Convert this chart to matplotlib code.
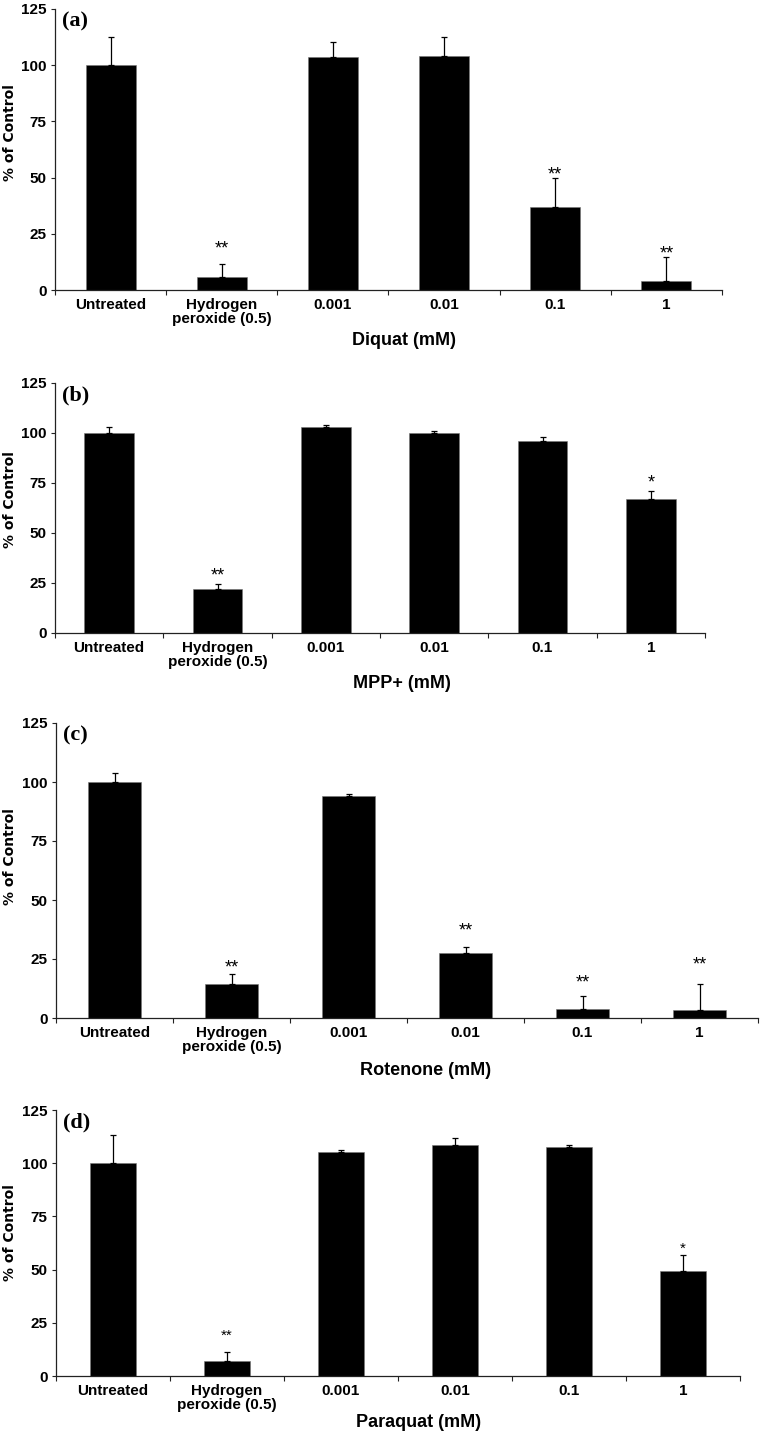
import numpy as np
import matplotlib
matplotlib.use('Agg')
import matplotlib.pyplot as plt

categories = ['Untreated', 'Hydrogen\nperoxide (0.5)', '0.001', '0.01', '0.1', '1']

xlabels = ['Diquat (mM)', 'MPP+ (mM)', 'Rotenone (mM)', 'Paraquat (mM)']
panel_tags = ['(a)', '(b)', '(c)', '(d)']

# % of control (mean) and upper error
diquat_mean = [100, 5.8, 103.6, 104.2, 37.1, 4.2]
diquat_err = [12.4, 5.8, 6.7, 8.3, 12.9, 10.5]
diquat_star = ['', '**', '', '', '**', '**']
diquat_star_y = [0, 20.9, 0, 0, 54.1, 18.8]

mpp_mean = [100, 22.0, 103.1, 99.8, 96.0, 67.0]
mpp_err = [3.0, 2.3, 0.9, 1.2, 2.2, 3.8]
mpp_star = ['', '**', '', '', '', '*']
mpp_star_y = [0, 31.8, 0, 0, 0, 78.0]

rot_mean = [100, 14.4, 93.9, 27.7, 3.8, 3.2]
rot_err = [3.7, 4.2, 1.0, 2.2, 5.5, 11.2]
rot_star = ['', '**', '', '**', '**', '**']
rot_star_y = [0, 23.6, 0, 39.3, 17.5, 25.0]

para_mean = [100, 6.9, 105.3, 108.6, 107.6, 49.3]
para_err = [13.4, 4.2, 0.7, 3.1, 1.0, 7.7]
para_star = ['', '**', '', '', '', '*']
para_star_y = [0, 21.3, 0, 0, 0, 62.0]

means = [diquat_mean, mpp_mean, rot_mean, para_mean]
errs = [diquat_err, mpp_err, rot_err, para_err]
stars = [diquat_star, mpp_star, rot_star, para_star]
stars_y = [diquat_star_y, mpp_star_y, rot_star_y, para_star_y]

W, H = 760, 1434
# layout in pixels: (left, right, top, bottom)
boxes = [(55, 722, 9, 290), (55, 705, 383, 633), (56, 758, 723, 1018), (56, 740, 1110, 1376)]
bar_w = [0.45, 0.46, 0.46, 0.40]
star_size = [13, 13, 13, 11]
xlabel_pos = [(404, 332), (402, 675), (426, 1062), (419, 1414)]
ylabel_y = [133, 500, 857, 1233]

fig = plt.figure(figsize=(W / 100, H / 100), dpi=100)
sans = 'Liberation Sans'

x = np.arange(len(categories))
for i in range(4):
    l, r, t, b = boxes[i]
    ax = fig.add_axes([l / W, 1 - b / H, (r - l) / W, (b - t) / H])
    ax.bar(x, means[i], width=bar_w[i], color='black', edgecolor='#777777', linewidth=0.4, zorder=2)
    ax.errorbar(x, means[i], yerr=[np.zeros(len(x)), errs[i]], fmt='none',
                ecolor='black', elinewidth=0.9, capsize=2.2, capthick=0.9, zorder=3)
    for xi, s, sy in zip(x, stars[i], stars_y[i]):
        if s:
            ax.annotate(s, (xi, sy), xytext=(0, -0.59 * star_size[i]), textcoords='offset points',
                        ha='center', va='baseline', fontsize=star_size[i], family=sans)

    ax.set_xlim(-0.5, len(x) - 0.5)
    ax.set_ylim(0, 125)
    ax.set_yticks([0, 25, 50, 75, 100, 125])
    ax.set_xticks(np.arange(len(x) + 1) - 0.5)
    ax.set_xticklabels([])
    ax.set_xticks(x, minor=True)
    ax.set_xticklabels(categories, minor=True, fontsize=11, fontweight='bold',
                       family=sans, linespacing=0.95)
    ax.tick_params(axis='x', which='minor', length=0, pad=6)
    ax.tick_params(axis='x', which='major', length=3.5, width=0.8, direction='out', color='#222222')
    ax.tick_params(axis='y', length=3, width=0.8, direction='out', pad=3, color='#222222')
    for lab in ax.get_yticklabels():
        lab.set_fontsize(11)
        lab.set_fontweight('bold')
        lab.set_family(sans)
    for side in ['top', 'right']:
        ax.spines[side].set_visible(False)
    for side in ['left', 'bottom']:
        ax.spines[side].set_linewidth(0.9)
        ax.spines[side].set_color('#222222')

    fig.text(xlabel_pos[i][0] / W, 1 - xlabel_pos[i][1] / H, xlabels[i], ha='center', va='top',
             fontsize=13, fontweight='bold', family=sans)
    fig.text(10.5 / W, 1 - ylabel_y[i] / H, '% of Control', rotation=90, ha='center', va='center',
             fontsize=10, fontweight='bold', family='DejaVu Sans')
    fig.text((l + 7) / W, 1 - (t + 2) / H, panel_tags[i], ha='left', va='top',
             fontsize=16, fontweight='bold', family='Liberation Serif')

plt.savefig('out.png', dpi=100)
